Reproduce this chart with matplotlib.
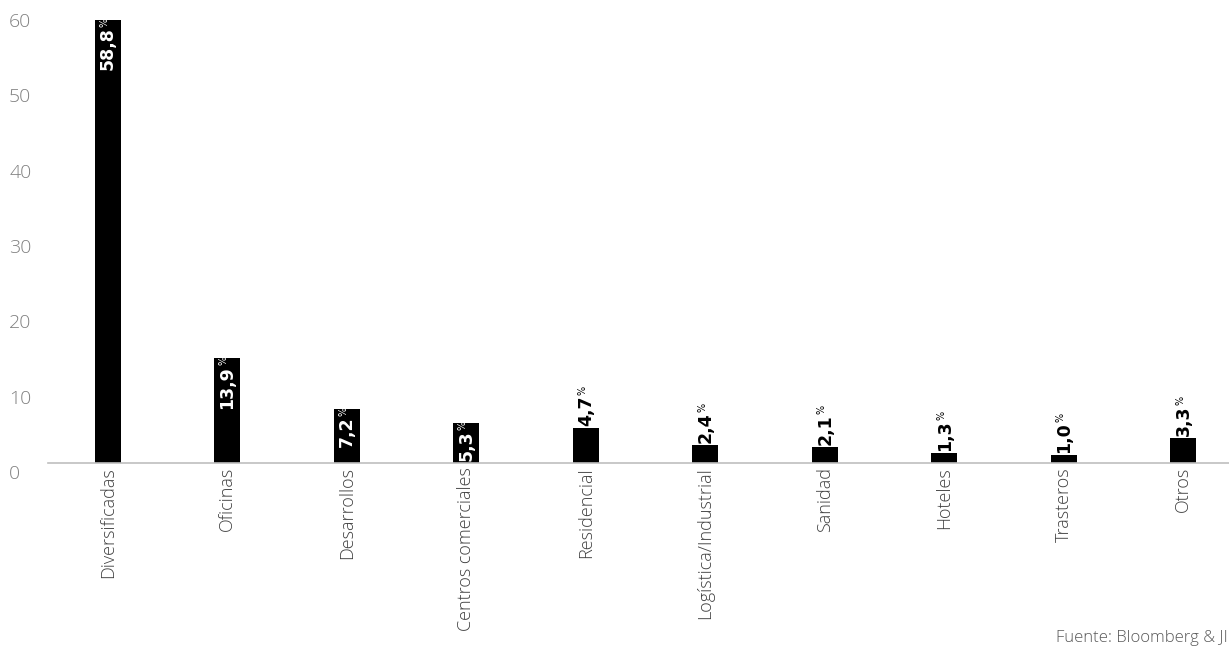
import matplotlib
matplotlib.use("Agg")
import matplotlib.pyplot as plt
from matplotlib.transforms import ScaledTranslation
import numpy as np

# ── data ─────────────────────────────────────────────────────────────────────
categories = [
    "Diversificadas", "Oficinas", "Desarrollos", "Centros comerciales",
    "Residencial", "Logística/Industrial", "Sanidad", "Hoteles",
    "Trasteros", "Otros",
]
shares = [58.8, 13.9, 7.2, 5.3, 4.7, 2.4, 2.1, 1.3, 1.0, 3.3]
y_ticks = [0, 10, 20, 30, 40, 50, 60]
source = "Fuente: Bloomberg & JI"

# ── style ────────────────────────────────────────────────────────────────────
LIGHT = "Open Sans"
BOLD = "DejaVu Sans"
W, H, DPI = 1229, 661, 100

fig = plt.figure(figsize=(W / DPI, H / DPI), dpi=DPI)
ax = fig.add_axes([48 / W, 1 - 463 / H, 1195 / W, 452 / H])

x = np.arange(len(categories))
ax.bar(x, shares, width=0.22, color="black")

ax.set_xlim(-0.5, len(categories) - 0.5)
ax.set_ylim(0, 60)

ax.set_xticks(x)
ax.set_xticklabels(categories, rotation=90, ha="center", va="top",
                   fontsize=13, color="#404040", family=LIGHT, fontweight="light")
ax.set_yticks(y_ticks)
ax.set_yticklabels([str(t) for t in y_ticks], fontsize=14, color="#808080",
                   family=LIGHT, fontweight="light", ha="left")
ax.tick_params(axis="x", length=0, pad=3)
ax.tick_params(axis="y", length=0, pad=28)

# y labels sit slightly below their values in the reference
shift = ScaledTranslation(0, -9 / DPI, fig.dpi_scale_trans)
for lbl in ax.get_yticklabels():
    lbl.set_transform(lbl.get_transform() + shift)

for side in ["top", "right", "left"]:
    ax.spines[side].set_visible(False)
ax.spines["bottom"].set_color("#bfbfbf")
ax.spines["bottom"].set_linewidth(1.2)

# value labels: inside (white) for tall bars, above (black) for short ones.
# number in bold, "%" as a small raised sign right after it
renderer = fig.canvas.get_renderer()
for xi, v in zip(x, shares):
    num = f"{v:.1f}".replace(".", ",")
    inside = v >= 5
    col = "white" if inside else "black"
    if inside:
        pct = ax.annotate("%", (xi, v), xytext=(-2.5, 1.5), textcoords="offset points",
                          rotation=90, ha="center", va="top", color=col,
                          fontsize=7, family=BOLD)
        bb = pct.get_window_extent(renderer)
        ax.annotate(num, (bb.x0 + bb.width / 2 + 3.5, bb.y0 - 0.5), xycoords="figure pixels",
                    rotation=90, ha="center", va="top", color=col,
                    fontsize=12.5, fontweight="bold", family=BOLD)
    else:
        t = ax.annotate(num, (xi, v), xytext=(0.5, 1.5), textcoords="offset points",
                        rotation=90, ha="center", va="bottom", color=col,
                        fontsize=12.5, fontweight="bold", family=BOLD)
        bb = t.get_window_extent(renderer)
        ax.annotate("%", (bb.x0 + bb.width / 2 - 3.5, bb.y1 + 0.5), xycoords="figure pixels",
                    rotation=90, ha="center", va="bottom", color=col,
                    fontsize=7, family=BOLD)

fig.text(1228 / W, 23 / H, source, ha="right", va="center",
         fontsize=12, color="#595959", family=LIGHT, fontweight="light")

fig.savefig("out.png", dpi=DPI)
